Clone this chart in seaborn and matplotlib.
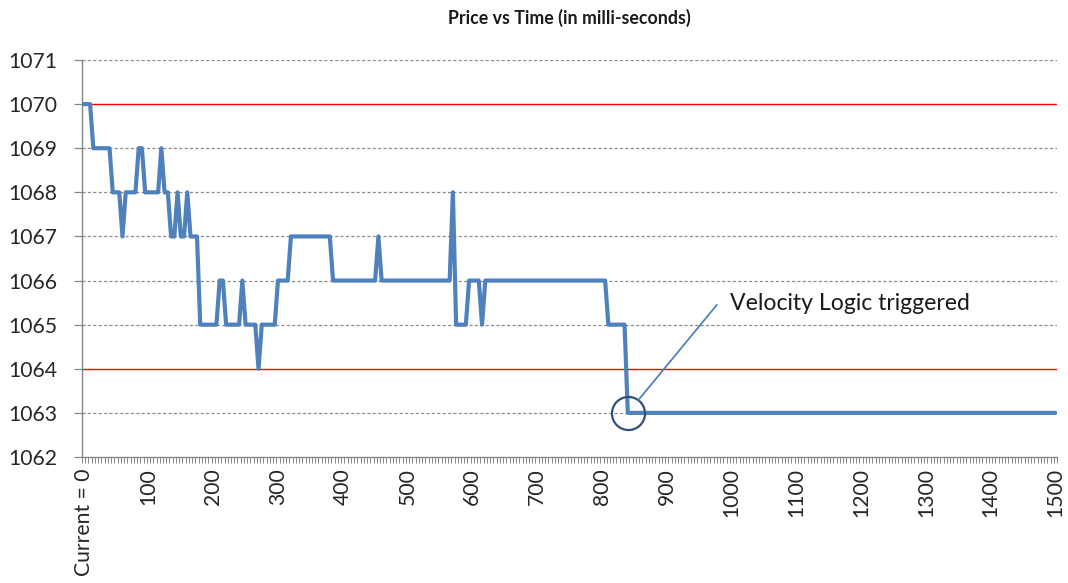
import numpy as np
import pandas as pd
import matplotlib
matplotlib.use("Agg")
import matplotlib.pyplot as plt
import seaborn as sns
from matplotlib.ticker import FixedLocator, NullFormatter

# ---- data ----
# price holds its value from each change time until the next change
change_times_ms = [0, 15, 45, 60, 65, 85, 95, 120, 125, 135, 145, 150, 160, 165,
                   180, 210, 220, 245, 250, 270, 275, 300, 320, 385, 455, 460,
                   570, 575, 595, 615, 620, 810, 840]
change_prices = [1070, 1069, 1068, 1067, 1068, 1069, 1068, 1069, 1068, 1067, 1068, 1067, 1068, 1067,
                 1065, 1066, 1065, 1066, 1065, 1064, 1065, 1066, 1067, 1066, 1067, 1066,
                 1068, 1065, 1066, 1065, 1066, 1065, 1063]
end_time_ms = 1500
step_ms = 5
label_step_ms = 100
first_label = "Current = 0"
y_min, y_max = 1062, 1071
limit_levels = [1064, 1070]
trigger_time_ms = 840
trigger_price = 1063
annotation_text = "Velocity Logic triggered"
title_text = "Price vs Time (in milli-seconds)"

# ---- build table ----
sample_times = list(range(0, end_time_ms + 1, step_ms))
prices = []
for t in sample_times:
    p = None
    for ct, cp in zip(change_times_ms, change_prices):
        if ct <= t:
            p = cp
    prices.append(p)
df = pd.DataFrame({"pos": np.arange(len(sample_times)), "time": sample_times, "price": prices})

sns.set_theme(style="white")
plt.rcParams["font.family"] = ["Lato", "DejaVu Sans"]

W, H = 1068, 583
fig = plt.figure(figsize=(W / 100, H / 100), dpi=100)
ax = fig.add_axes([82 / W, 1 - 457 / H, (1057 - 82) / W, (457 - 60) / H])

# grid lines
for lv in range(y_min + 1, y_max + 1):
    if lv in limit_levels:
        ax.axhline(lv, color="#FF0000", lw=1.0, zorder=1)
    else:
        ax.axhline(lv, color="#8C8C8C", lw=0.9, ls=(0, (2.5, 1.8)), zorder=1)

sns.lineplot(data=df, x="pos", y="price", ax=ax, color="#4F81BD", linewidth=3.0,
             zorder=3, legend=False)

n = len(sample_times)
ax.set_xlim(-0.5, n - 0.5)
ax.set_ylim(y_min, y_max)

# axes styling
for s in ["top", "right"]:
    ax.spines[s].set_visible(False)
for s in ["left", "bottom"]:
    ax.spines[s].set_color("#868686")
    ax.spines[s].set_linewidth(1.0)

ax.set_yticks(range(y_min, y_max + 1))
ax.set_yticklabels([str(v) for v in range(y_min, y_max + 1)])
ax.tick_params(axis="y", which="major", direction="out", length=5.8, width=0.9,
               color="#868686", labelsize=15.2, pad=12, labelcolor="#262626", left=True)

pos_per_label = label_step_ms // step_ms
label_pos = list(range(0, n, pos_per_label))
label_txt = [first_label] + [str(sample_times[p]) for p in label_pos[1:]]
ax.xaxis.set_major_locator(FixedLocator(label_pos))
ax.set_xticklabels(label_txt, rotation=90, va="top", ha="center")
ax.xaxis.set_minor_locator(FixedLocator(np.arange(-0.5, n, 1.0)))
ax.xaxis.set_minor_formatter(NullFormatter())
ax.tick_params(axis="x", which="major", length=0, pad=8, labelsize=15.2, labelcolor="#262626", bottom=True)
ax.tick_params(axis="x", which="minor", direction="out", length=4.3, width=0.7,
               color="#868686", bottom=True)
ax.set_xlabel("")
ax.set_ylabel("")

# trigger annotation
trig_pos = sample_times.index(trigger_time_ms)
ax.plot([trig_pos], [trigger_price], marker="o", ms=23.8, mfc="none", mec="#2E5079",
        mew=1.6, zorder=4, clip_on=False)
ax.annotate("", xy=(trig_pos, trigger_price), xytext=(195.5, 1065.45),
            arrowprops=dict(arrowstyle="-", color="#4F81BD", lw=1.3, shrinkA=0, shrinkB=11.9),
            zorder=4)
ax.text(199.5, 1065.47, annotation_text, ha="left", va="center", fontsize=16.6, color="#1a1a1a")

fig.text(569.5 / W, 1 - 18 / H, title_text, ha="center", va="center", fontsize=12.8,
         fontweight="bold", color="#1a1a1a")

fig.savefig("out.png", dpi=100)
